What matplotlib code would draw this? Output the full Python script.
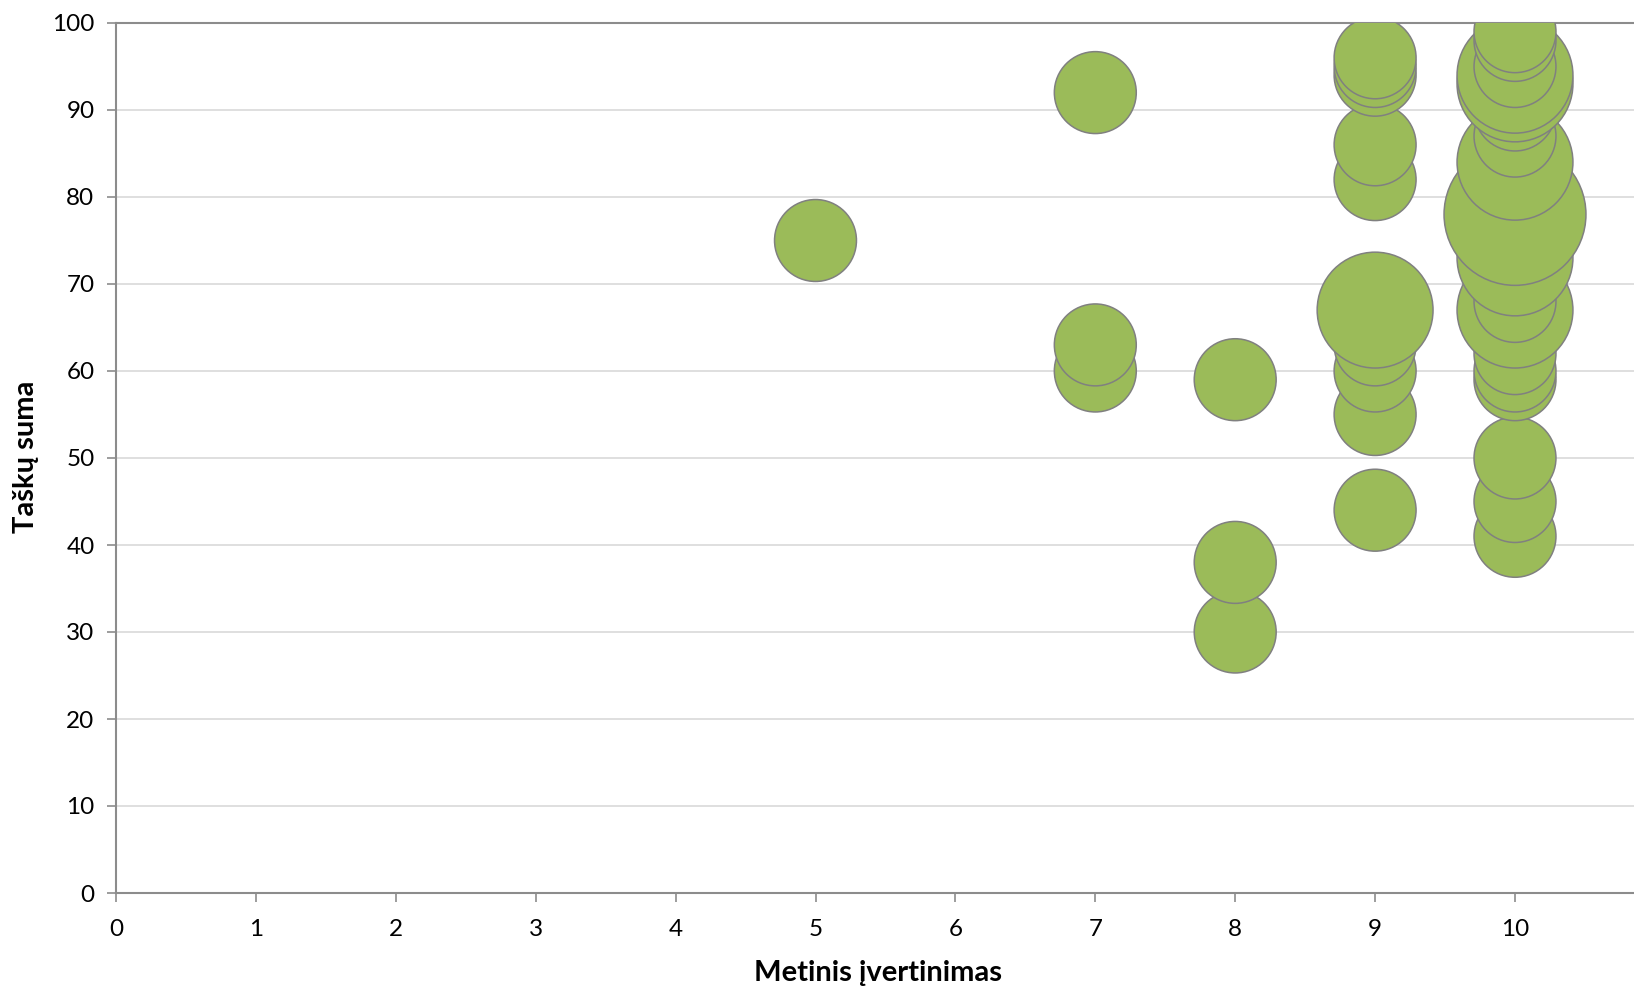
import numpy as np
from matplotlib import pyplot as plt

# Metinis įvertinimas (x), Taškų suma (y), number of students (bubble size)
x_vals = [5,
          7, 7, 7,
          8, 8, 8,
          9, 9, 9, 9, 9, 9, 9, 9, 9, 9,
          10, 10, 10, 10, 10, 10, 10, 10, 10, 10, 10, 10, 10, 10, 10, 10, 10, 10]
y_vals = [75,
          60, 63, 92,
          30, 38, 59,
          44, 55, 60, 63, 67, 82, 86, 94, 95, 96,
          41, 45, 50, 59, 60, 62, 67, 68, 73, 78, 84, 87, 90, 93, 94, 95, 98, 99]
counts = [1,
          1, 1, 1,
          1, 1, 1,
          1, 1, 1, 1, 2, 1, 1, 1, 1, 1,
          1, 1, 1, 1, 1, 1, 2, 1, 2, 3, 2, 1, 1, 2, 2, 1, 1, 1]

x_ticks = list(range(0, 11))
y_ticks = list(range(0, 101, 10))

X_LABEL = "Metinis įvertinimas"
Y_LABEL = "Taškų suma"

GREEN = "#9BBB59"
EDGE = "#808080"
GRID = "#D9D9D9"
AXIS = "#8C8C8C"

plt.rcParams["font.family"] = ["Lato", "DejaVu Sans"]

fig = plt.figure(figsize=(16.34, 9.89), dpi=100)
ax = fig.add_axes([116 / 1634, 96 / 989, 1 - 116 / 1634, (893 - 23) / 989])

# draw lower bubbles first so higher ones sit on top (like the original)
order = np.argsort(y_vals, kind="stable")
xs = np.array(x_vals)[order]
ys = np.array(y_vals)[order]
ss = np.array(counts)[order] * 3480

ax.scatter(xs, ys, s=ss, color=GREEN, edgecolors=EDGE, linewidths=1.1, zorder=3)

ax.set_xlim(0, (1634 - 116) / 139.9)
ax.set_ylim(0, 100)
ax.set_xticks(x_ticks)
ax.set_yticks(y_ticks)

ax.grid(True, axis="y", color=GRID, linewidth=1.2, zorder=0)
ax.set_axisbelow(True)

for side in ["left", "bottom", "top"]:
    ax.spines[side].set_color(AXIS)
    ax.spines[side].set_linewidth(1.5)
ax.spines["right"].set_visible(False)

ax.tick_params(axis="both", direction="out", length=6.5, width=1.2, color=AXIS,
               labelsize=17.5, labelcolor="black")
ax.tick_params(axis="x", pad=12)
ax.tick_params(axis="y", pad=9)

fig.text(878 / 1634, 1 - 973 / 989, X_LABEL,
         ha="center", va="center", fontsize=21, fontweight="bold")
fig.text(26 / 1634, 1 - 457 / 989, Y_LABEL, rotation=90,
         ha="center", va="center", fontsize=21, fontweight="bold")

fig.savefig("out.png", dpi=100)
